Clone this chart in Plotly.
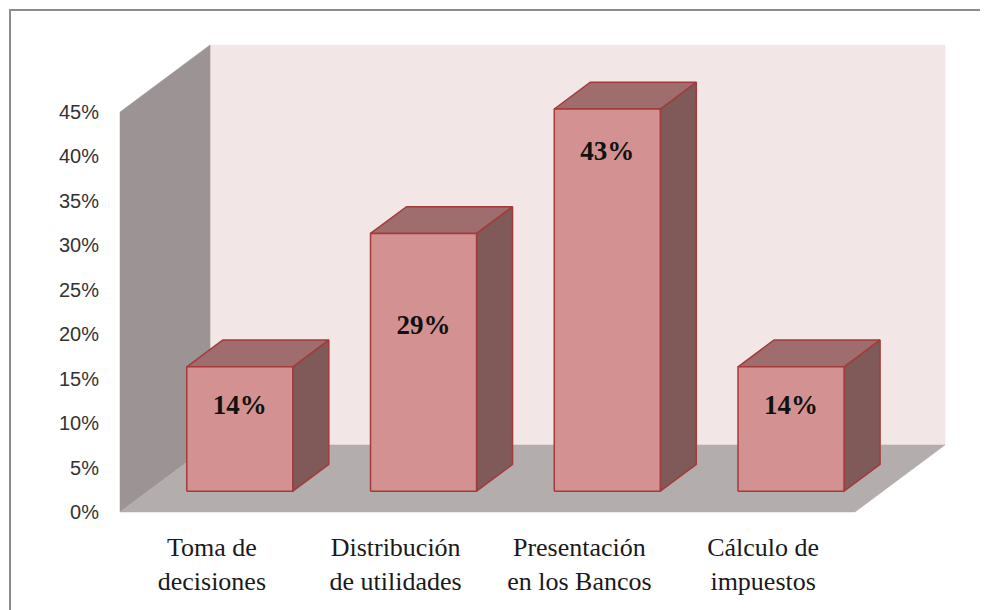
import plotly.graph_objects as go

# ---------------- data ----------------
categories = ["Toma de<br>decisiones", "Distribución<br>de utilidades",
              "Presentación<br>en los Bancos", "Cálculo de<br>impuestos"]
values = [14, 29, 43, 14]
value_labels = ["14%", "29%", "43%", "14%"]
y_ticks = [0, 5, 10, 15, 20, 25, 30, 35, 40, 45]
y_tick_labels = ["0%", "5%", "10%", "15%", "20%", "25%", "30%", "35%", "40%", "45%"]

# ---------------- styling / geometry ----------------
OFF = 8                 # page body margin compensation
W, H = 988 - OFF, 610 - OFF
L_MARGIN = 104 - OFF
DX = 0.49      # x-axis units per unit of depth
DY = 7.54      # y-axis units per unit of depth
YMAX = 45
BAR_W = 0.577
D_FRONT = 0.31
D_BACK = 0.71
LABEL_DROP = [4.6, 10.5, 5.0, 4.6]

WALL_BACK = "#F3E6E6"
WALL_SIDE = "#9C9494"
FLOOR = "#B3ADAD"
BAR_FRONT = "#D39191"
BAR_TOP = "#9F6D6D"
BAR_SIDE = "#805959"
BAR_LINE = "#A33B3B"

n = len(values)


def proj(x, y, d):
    return x + DX * d, y + DY * d


def poly(points, fill, line_color=None, line_w=0):
    xs = [p[0] for p in points] + [points[0][0]]
    ys = [p[1] for p in points] + [points[0][1]]
    return go.Scatter(
        x=xs, y=ys, mode="lines", fill="toself", fillcolor=fill,
        line=dict(color=line_color or fill, width=line_w if line_color else 0.5),
        hoverinfo="skip", showlegend=False)


fig = go.Figure()

# back wall
fig.add_trace(poly([proj(0, 0, 1), proj(n, 0, 1), proj(n, YMAX, 1), proj(0, YMAX, 1)], WALL_BACK))
# side wall
fig.add_trace(poly([proj(0, 0, 0), proj(0, YMAX, 0), proj(0, YMAX, 1), proj(0, 0, 1)], WALL_SIDE))
# floor
fig.add_trace(poly([proj(0, 0, 0), proj(n, 0, 0), proj(n, 0, 1), proj(0, 0, 1)], FLOOR))

# bars
lab_x, lab_y = [], []
for i, v in enumerate(values):
    x0 = i + 0.5 - BAR_W / 2
    x1 = i + 0.5 + BAR_W / 2
    # side face
    fig.add_trace(poly([proj(x1, 0, D_FRONT), proj(x1, 0, D_BACK),
                        proj(x1, v, D_BACK), proj(x1, v, D_FRONT)], BAR_SIDE, BAR_LINE, 1.5))
    # top face
    fig.add_trace(poly([proj(x0, v, D_FRONT), proj(x1, v, D_FRONT),
                        proj(x1, v, D_BACK), proj(x0, v, D_BACK)], BAR_TOP, BAR_LINE, 1.5))
    # front face
    fig.add_trace(poly([proj(x0, 0, D_FRONT), proj(x1, 0, D_FRONT),
                        proj(x1, v, D_FRONT), proj(x0, v, D_FRONT)], BAR_FRONT, BAR_LINE, 1.5))
    lx, ly = proj(i + 0.5, v - LABEL_DROP[i], D_FRONT)
    lab_x.append(lx)
    lab_y.append(ly)

fig.add_trace(go.Scatter(
    x=lab_x, y=lab_y, mode="text",
    text=["<b>%s</b>" % t for t in value_labels],
    textfont=dict(family="Liberation Serif, Times New Roman, serif", size=27, color="#111111"),
    hoverinfo="skip", showlegend=False))

# axis ranges so that 1 x-unit = 183.75 px, 1 y-unit (%) = 8.889 px
PX_X0, PX_PER_X = 120 - OFF, 183.75
PX_Y0, PX_PER_Y = 512 - OFF, 400 / 45
xr = [(L_MARGIN - PX_X0) / PX_PER_X, (W - PX_X0) / PX_PER_X]
yr = [(PX_Y0 - H) / PX_PER_Y, PX_Y0 / PX_PER_Y]

fig.update_layout(
    width=W, height=H,
    margin=dict(l=L_MARGIN, r=0, t=0, b=0),
    paper_bgcolor="white", plot_bgcolor="white",
    showlegend=False,
    xaxis=dict(range=xr, showgrid=False, zeroline=False, showline=False,
               tickvals=[i + 0.5 for i in range(n)], ticktext=categories,
               anchor="free", position=1 - 521 / H, ticks="",
               tickfont=dict(family="Liberation Serif, Times New Roman, serif", size=26, color="#1a1a1a")),
    yaxis=dict(range=yr, showgrid=False, zeroline=False, showline=False,
               tickvals=y_ticks, ticktext=y_tick_labels, ticks="", ticklabelstandoff=4,
               tickfont=dict(family="Liberation Sans, Arial, sans-serif", size=20, color="#333333")),
    shapes=[dict(type="rect", xref="paper", yref="paper",
                 x0=(10 - OFF - L_MARGIN) / (W - L_MARGIN), x1=1.02,
                 y0=-0.05, y1=1 - (10 - OFF) / H,
                 line=dict(color="#8C8C8C", width=2), fillcolor="rgba(0,0,0,0)", layer="below")],
)

fig.write_html("out.html")
